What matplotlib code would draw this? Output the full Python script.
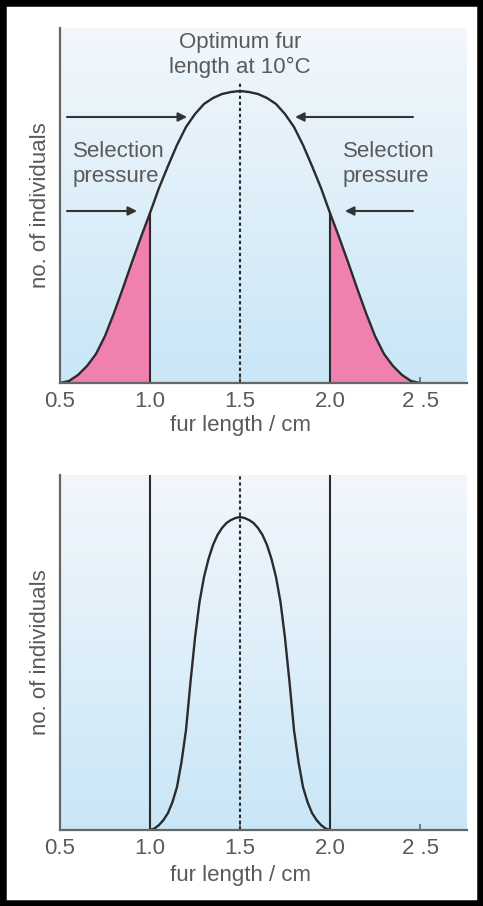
import numpy as np
import matplotlib
matplotlib.use("Agg")
import matplotlib.pyplot as plt
from matplotlib.colors import LinearSegmentedColormap
from matplotlib.patches import Rectangle

# ---------------- data ----------------
# Top panel: distribution before stabilising selection
fur_top = [0.50, 0.55, 0.60, 0.65, 0.70, 0.75, 0.80, 0.85, 0.90, 0.95,
           1.00, 1.05, 1.10, 1.15, 1.20, 1.25, 1.30, 1.35, 1.40, 1.45,
           1.50, 1.55, 1.60, 1.65, 1.70, 1.75, 1.80, 1.85, 1.90, 1.95,
           2.00, 2.05, 2.10, 2.15, 2.20, 2.25, 2.30, 2.35, 2.40, 2.45, 2.50]
count_top = [0, 2, 8, 17, 29, 47, 70, 95, 121, 146,
             170, 195, 217, 238, 256, 269, 279, 285, 289, 291,
             292, 291, 289, 285, 279, 269, 256, 238, 217, 195,
             170, 146, 121, 95, 70, 47, 29, 17, 8, 2, 0]

# Bottom panel: distribution after selection
fur_bottom = [1.000, 1.025, 1.050, 1.075, 1.100, 1.125, 1.150, 1.175, 1.200,
              1.225, 1.250, 1.275, 1.300, 1.325, 1.350, 1.375, 1.400, 1.425,
              1.450, 1.475, 1.500, 1.525, 1.550, 1.575, 1.600, 1.625, 1.650,
              1.675, 1.700, 1.725, 1.750, 1.775, 1.800, 1.825, 1.850, 1.875,
              1.900, 1.925, 1.950, 1.975, 2.000]
count_bottom = [0, 1.5, 5, 10, 17, 28, 43, 68, 100,
                148, 192, 228, 253, 271, 285, 295, 302, 307,
                310, 312, 313, 312, 310, 307, 302, 295, 285,
                271, 253, 228, 192, 148, 100, 68, 43, 28,
                17, 10, 5, 1.5, 0]

optimum = 1.5
cut_low, cut_high = 1.0, 2.0
tick_values = [0.5, 1.0, 1.5, 2.0, 2.5]
tick_labels = ["0.5", "1.0", "1.5", "2.0", "2 .5"]
x_label = "fur length / cm"
y_label = "no. of individuals"
optimum_text = "Optimum fur\nlength at 10°C"
pressure_text = "Selection\npressure"

# ---------------- style ----------------
FONT = ["Liberation Sans", "DejaVu Sans"]
plt.rcParams["font.family"] = FONT
TXT = "#5a5a5a"
LINE = "#2b2b2b"
AXC = "#666666"
PINK = "#f080b0"
FS = 16

W, H = 483, 906
fig = plt.figure(figsize=(W / 100, H / 100), dpi=100)

XMIN, XMAX = 0.5, 0.5 + 407 / 180
YMAX = 355

# 0 -> pale top colour, 1 -> light blue bottom colour
bg_cmap = LinearSegmentedColormap.from_list("bg", ["#f2f7fc", "#c9e6f7"])


def make_axes(top_px):
    bottom_px = top_px + 355
    ax = fig.add_axes([60 / W, (H - bottom_px) / H, 407 / W, 355 / H])
    grad = np.linspace(1, 0, 256).reshape(-1, 1)  # row 0 at bottom = blue
    ax.imshow(grad, cmap=bg_cmap, vmin=0, vmax=1,
              extent=[XMIN, XMAX, 0, YMAX], origin="lower",
              aspect="auto", zorder=0)
    ax.set_xlim(XMIN, XMAX)
    ax.set_ylim(0, YMAX)
    for s in ["top", "right"]:
        ax.spines[s].set_visible(False)
    for s in ["left", "bottom"]:
        ax.spines[s].set_color(AXC)
        ax.spines[s].set_linewidth(1.6)
        ax.spines[s].set_zorder(5)
    ax.set_yticks([])
    ax.set_xticks(tick_values)
    ax.set_xticklabels(tick_labels, fontsize=FS, color=TXT)
    ax.tick_params(axis="x", direction="in", length=4, width=1.2,
                   color=AXC, pad=5.5)
    ax.set_facecolor("none")
    return ax


dash = (0, (1.6, 1.3))

# ---------------- top panel ----------------
ax1 = make_axes(28)
x1 = np.array(fur_top)
y1 = np.array(count_top)
ax1.fill_between(x1, 0, y1, where=(x1 <= cut_low), color=PINK, zorder=2, lw=0)
ax1.fill_between(x1, 0, y1, where=(x1 >= cut_high), color=PINK, zorder=2, lw=0)
ax1.plot(x1, y1, color=LINE, lw=1.7, zorder=4, solid_joinstyle="round")
for c in (cut_low, cut_high):
    ax1.plot([c, c], [0, y1[fur_top.index(c)]], color=LINE, lw=1.5, zorder=4)
ax1.plot([optimum, optimum], [0, 301], color=LINE, lw=1.5,
         linestyle=dash, zorder=3)

arrow_kw = dict(arrowstyle="-|>", color="#333333", lw=1.5,
                mutation_scale=13, shrinkA=0, shrinkB=0)
ax1.annotate("", xy=(1.206, 266), xytext=(0.539, 266), arrowprops=arrow_kw)
ax1.annotate("", xy=(1.806, 266), xytext=(2.461, 266), arrowprops=arrow_kw)
ax1.annotate("", xy=(0.928, 172), xytext=(0.539, 172), arrowprops=arrow_kw)
ax1.annotate("", xy=(2.083, 172), xytext=(2.461, 172), arrowprops=arrow_kw)

ax1.text(0.572, 219, pressure_text, fontsize=FS, color=TXT,
         ha="left", va="center", zorder=6)
ax1.text(2.072, 219, pressure_text, fontsize=FS, color=TXT,
         ha="left", va="center", zorder=6)
ax1.text(optimum, 328, optimum_text, fontsize=FS, color=TXT,
         ha="center", va="center", zorder=6)
ax1.text(optimum, -42, x_label, fontsize=FS, color=TXT,
         ha="center", va="center")
ax1.text(0.389, YMAX / 2, y_label, fontsize=FS, color=TXT, rotation=90,
         ha="center", va="center")

# ---------------- bottom panel ----------------
ax2 = make_axes(475)
x2 = np.array(fur_bottom)
y2 = np.array(count_bottom)
ax2.plot(x2, y2, color=LINE, lw=1.7, zorder=4, solid_joinstyle="round")
for c in (cut_low, cut_high):
    ax2.plot([c, c], [0, YMAX], color=LINE, lw=1.5, zorder=4)
ax2.plot([optimum, optimum], [0, YMAX], color=LINE, lw=1.5,
         linestyle=dash, zorder=3)
ax2.text(optimum, -45, x_label, fontsize=FS, color=TXT,
         ha="center", va="center")
ax2.text(0.389, YMAX / 2, y_label, fontsize=FS, color=TXT, rotation=90,
         ha="center", va="center")

# ---------------- black frame ----------------
fig.add_artist(Rectangle((0, 0), 1, 1, transform=fig.transFigure,
                         fill=False, edgecolor="black", linewidth=9.0,
                         clip_on=False, zorder=10))

fig.savefig("out.png", dpi=100, facecolor="white")
